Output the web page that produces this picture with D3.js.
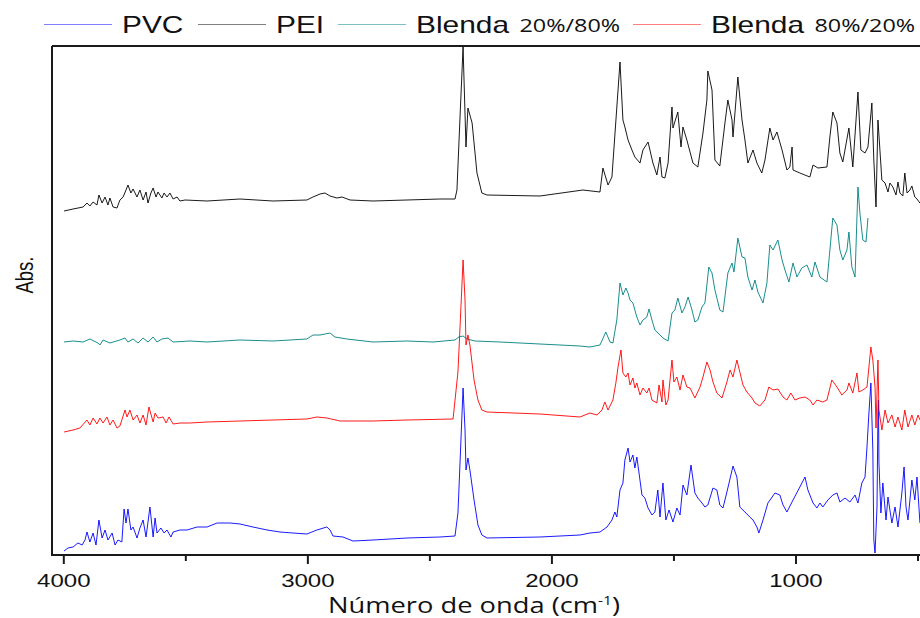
<!DOCTYPE html>
<html>
<head>
<meta charset="utf-8">
<script src="https://cdn.jsdelivr.net/npm/d3@7"></script>
<style>
  body { margin: 0; background: #fff; }
  svg { display: block; }
</style>
</head>
<body>
<script>
// series labels (legend), split into name + ratio part
const legendNames = ["PVC", "PEI", "Blenda", "Blenda"];
const legendRatios = ["", "", "20%/80%", "80%/20%"];
const colors = ["#0000ff", "#000000", "#008080", "#ff0000"];

const majorTicks = [4000, 3000, 2000, 1000];
const minorTicks = [3500, 2500, 1500, 500];

// [wavenumber (cm-1), absorbance (a.u., stacked)]
const pvc = [
  [3997,0.04],[3981,0.07],[3960,0.08],[3940,0.12],[3923,0.10],[3911,0.15],[3903,0.23],[3891,0.13],
  [3878,0.22],[3866,0.10],[3854,0.35],[3841,0.17],[3829,0.25],[3817,0.15],[3800,0.22],[3788,0.10],
  [3776,0.15],[3760,0.13],[3751,0.46],[3743,0.32],[3735,0.46],[3723,0.25],[3714,0.28],[3698,0.17],
  [3686,0.27],[3673,0.35],[3661,0.18],[3645,0.48],[3632,0.18],[3624,0.37],[3616,0.22],[3600,0.27],
  [3587,0.22],[3575,0.25],[3559,0.18],[3550,0.23],[3522,0.25],[3493,0.25],[3452,0.28],[3411,0.28],
  [3370,0.32],[3317,0.32],[3276,0.31],[3223,0.28],[3165,0.25],[3112,0.23],[3059,0.22],[3002,0.21],
  [2961,0.25],[2920,0.28],[2907,0.25],[2895,0.19],[2854,0.18],[2813,0.14],[2731,0.15],[2592,0.17],
  [2457,0.18],[2395,0.19],[2383,0.42],[2379,0.65],[2362,1.67],[2354,1.25],[2350,0.85],[2342,0.97],
  [2334,0.85],[2317,0.55],[2301,0.30],[2285,0.20],[2264,0.17],[2047,0.18],[1883,0.20],[1842,0.22],
  [1801,0.23],[1772,0.28],[1752,0.35],[1740,0.43],[1732,0.38],[1719,0.65],[1707,0.72],[1699,0.95],
  [1686,1.07],[1678,0.93],[1666,1.00],[1658,0.87],[1650,0.98],[1641,0.82],[1629,0.60],[1617,0.57],
  [1604,0.47],[1588,0.40],[1576,0.43],[1564,0.65],[1555,0.38],[1543,0.72],[1531,0.35],[1518,0.45],
  [1502,0.33],[1486,0.47],[1473,0.40],[1461,0.70],[1445,0.60],[1428,0.90],[1412,0.62],[1400,0.57],
  [1383,0.52],[1371,0.48],[1359,0.50],[1338,0.67],[1322,0.65],[1310,0.50],[1297,0.47],[1277,0.67],
  [1256,0.89],[1240,0.78],[1228,0.48],[1207,0.43],[1187,0.38],[1174,0.35],[1158,0.28],[1150,0.22],
  [1133,0.35],[1113,0.52],[1084,0.62],[1064,0.60],[1051,0.50],[1035,0.43],[1010,0.55],[982,0.68],
  [961,0.78],[949,0.65],[928,0.52],[912,0.47],[900,0.52],[888,0.48],[867,0.55],[847,0.60],
  [830,0.62],[818,0.53],[797,0.57],[777,0.53],[756,0.60],[744,0.52],[728,0.72],[715,0.78],
  [707,1.08],[699,1.42],[691,1.72],[683,1.05],[679,0.15],[674,0.02],[666,0.48],[662,1.42],
  [660,1.55],[658,0.92],[650,0.42],[642,0.72],[629,0.35],[621,0.58],[605,0.32],[592,0.48],
  [580,0.28],[564,0.62],[555,0.88],[547,0.48],[539,0.35],[523,0.75],[511,0.55],[502,0.78],[490,0.32]
];

const pei = [
  [3997,3.44],[3960,3.46],[3919,3.48],[3903,3.52],[3891,3.49],[3878,3.53],[3862,3.50],[3854,3.60],
  [3841,3.52],[3829,3.58],[3817,3.50],[3809,3.57],[3796,3.48],[3780,3.47],[3768,3.55],[3755,3.58],
  [3743,3.65],[3735,3.70],[3723,3.62],[3714,3.66],[3698,3.58],[3686,3.65],[3673,3.55],[3661,3.63],
  [3653,3.52],[3641,3.62],[3632,3.67],[3620,3.58],[3612,3.63],[3596,3.57],[3587,3.62],[3575,3.58],
  [3563,3.62],[3550,3.56],[3534,3.58],[3522,3.54],[3501,3.55],[3411,3.54],[3276,3.56],[3141,3.54],
  [3002,3.55],[2977,3.58],[2948,3.61],[2928,3.62],[2907,3.59],[2879,3.57],[2858,3.58],[2825,3.55],
  [2731,3.54],[2592,3.55],[2457,3.56],[2395,3.56],[2387,3.65],[2375,4.35],[2362,5.08],[2350,4.08],
  [2342,4.47],[2325,4.32],[2305,3.82],[2285,3.62],[2264,3.60],[2047,3.59],[1871,3.65],[1801,3.63],
  [1789,3.87],[1768,3.70],[1752,3.78],[1719,4.93],[1707,4.35],[1699,4.28],[1686,4.15],[1670,4.05],
  [1658,3.98],[1637,3.92],[1625,4.05],[1604,4.13],[1584,3.92],[1568,3.80],[1555,3.98],[1547,3.78],
  [1535,3.77],[1522,3.92],[1506,4.48],[1502,4.27],[1482,4.43],[1469,4.08],[1461,4.28],[1445,4.15],
  [1420,3.92],[1400,3.88],[1379,4.22],[1363,4.55],[1359,4.84],[1342,4.65],[1330,3.95],[1310,3.89],
  [1289,4.32],[1277,4.55],[1260,4.35],[1256,4.18],[1236,4.78],[1219,4.35],[1207,4.15],[1195,3.92],
  [1174,4.05],[1158,3.92],[1138,3.82],[1125,3.95],[1105,4.27],[1092,4.15],[1076,4.23],[1055,4.05],
  [1035,3.85],[1023,3.88],[1014,4.08],[1010,3.85],[982,3.82],[941,3.78],[928,3.90],[908,3.87],
  [871,3.88],[859,4.18],[847,4.43],[830,4.32],[818,4.02],[806,3.93],[781,4.27],[765,3.88],
  [744,4.63],[732,4.05],[715,4.02],[703,4.08],[687,4.52],[679,3.95],[670,3.48],[662,4.35],
  [646,3.75],[633,3.72],[621,3.63],[613,3.72],[601,3.68],[588,3.60],[580,3.73],[572,3.62],
  [560,3.59],[552,3.82],[543,3.62],[531,3.65],[523,3.69],[511,3.58],[502,3.56],[490,3.52]
];

const blend2080 = [
  [3997,2.13],[3960,2.14],[3919,2.13],[3891,2.16],[3858,2.12],[3850,2.10],[3837,2.15],[3809,2.12],
  [3768,2.15],[3747,2.17],[3735,2.13],[3714,2.16],[3694,2.12],[3673,2.17],[3653,2.13],[3632,2.18],
  [3616,2.13],[3596,2.16],[3571,2.17],[3550,2.13],[3481,2.14],[3411,2.13],[3276,2.15],[3141,2.14],
  [3002,2.16],[2977,2.20],[2948,2.20],[2907,2.22],[2887,2.18],[2838,2.16],[2731,2.13],[2592,2.14],
  [2485,2.13],[2395,2.15],[2379,2.18],[2362,2.19],[2346,2.16],[2313,2.14],[2211,2.13],[2047,2.11],
  [1883,2.09],[1842,2.08],[1801,2.10],[1777,2.23],[1760,2.13],[1748,2.12],[1732,2.35],[1719,2.72],
  [1707,2.60],[1695,2.67],[1686,2.62],[1678,2.55],[1666,2.52],[1650,2.38],[1637,2.30],[1625,2.35],
  [1609,2.38],[1600,2.46],[1588,2.35],[1576,2.25],[1555,2.20],[1543,2.17],[1522,2.14],[1506,2.42],
  [1494,2.45],[1482,2.57],[1465,2.42],[1453,2.48],[1440,2.58],[1424,2.45],[1412,2.33],[1400,2.35],
  [1383,2.48],[1371,2.52],[1355,2.88],[1342,2.82],[1330,2.65],[1310,2.45],[1297,2.43],[1277,2.82],
  [1260,2.92],[1252,2.83],[1236,3.17],[1219,2.98],[1207,2.97],[1195,2.78],[1178,2.65],[1166,2.75],
  [1154,2.63],[1133,2.52],[1117,2.72],[1105,3.10],[1092,3.05],[1072,3.15],[1055,2.95],[1043,2.85],
  [1027,2.73],[1010,2.92],[994,2.78],[974,2.87],[953,2.90],[933,2.78],[920,2.93],[900,2.78],
  [871,2.73],[859,3.05],[847,3.37],[830,3.30],[818,3.05],[806,2.95],[789,3.05],[781,3.23],
  [769,2.88],[756,2.78],[744,3.68],[736,3.42],[724,3.15],[711,3.13],[703,3.37]
];

const blend8020 = [
  [3997,1.23],[3960,1.25],[3932,1.27],[3903,1.35],[3891,1.30],[3878,1.37],[3862,1.31],[3850,1.37],
  [3837,1.32],[3821,1.38],[3809,1.30],[3796,1.35],[3780,1.27],[3768,1.29],[3747,1.45],[3739,1.38],
  [3727,1.45],[3714,1.35],[3698,1.40],[3686,1.32],[3673,1.40],[3661,1.30],[3649,1.48],[3632,1.33],
  [3624,1.42],[3612,1.37],[3591,1.38],[3579,1.32],[3567,1.38],[3550,1.31],[3522,1.32],[3481,1.32],
  [3411,1.33],[3276,1.34],[3141,1.35],[3002,1.36],[2961,1.38],[2920,1.37],[2866,1.34],[2731,1.34],
  [2592,1.35],[2403,1.36],[2383,1.83],[2375,2.25],[2362,2.95],[2354,2.55],[2350,2.10],[2342,2.20],
  [2334,2.10],[2317,1.75],[2301,1.55],[2285,1.45],[2264,1.43],[2047,1.41],[1883,1.38],[1842,1.42],
  [1813,1.40],[1793,1.45],[1781,1.53],[1768,1.45],[1748,1.55],[1736,1.72],[1727,1.88],[1715,2.05],
  [1707,1.82],[1695,1.78],[1686,1.82],[1678,1.70],[1666,1.77],[1658,1.67],[1650,1.72],[1637,1.60],
  [1625,1.67],[1609,1.62],[1600,1.67],[1588,1.55],[1568,1.52],[1559,1.70],[1547,1.53],[1543,1.75],
  [1531,1.50],[1522,1.55],[1506,1.95],[1498,1.73],[1486,1.78],[1473,1.65],[1461,1.80],[1445,1.68],
  [1432,1.67],[1412,1.57],[1391,1.68],[1379,1.78],[1363,1.93],[1350,1.85],[1338,1.73],[1322,1.62],
  [1301,1.57],[1281,1.73],[1268,1.85],[1256,1.78],[1240,1.95],[1228,1.83],[1215,1.70],[1199,1.63],
  [1178,1.57],[1166,1.52],[1146,1.49],[1125,1.55],[1109,1.68],[1092,1.65],[1072,1.66],[1051,1.58],
  [1035,1.55],[1019,1.62],[1002,1.55],[982,1.57],[961,1.58],[941,1.55],[928,1.50],[912,1.55],
  [888,1.53],[871,1.55],[851,1.75],[830,1.68],[810,1.60],[789,1.65],[781,1.72],[765,1.62],
  [748,1.82],[740,1.63],[724,1.65],[707,1.68],[691,2.08],[683,1.95],[674,1.68],[670,1.27],
  [662,1.95],[658,1.45],[646,1.25],[633,1.45],[621,1.32],[605,1.40],[592,1.28],[580,1.38],
  [564,1.25],[552,1.45],[539,1.28],[523,1.40],[511,1.30],[498,1.40],[490,1.35]
];

const series = [pvc, pei, blend2080, blend8020];

const W = 920, H = 618;
const plot = { left: 52, top: 46, right: 920, bottom: 555 };
const sx = 1.3; // the original figure is stretched horizontally

const x = d3.scaleLinear().domain([4000, 500]).range([63.3, 917.5]);
const y = d3.scaleLinear().domain([0, 5.09]).range([plot.bottom, plot.top]);

const svg = d3.select("body")
  .append("svg")
  .attr("width", W)
  .attr("height", H);

// spectra
const line = d3.line()
  .x(d => x(d[0]))
  .y(d => y(d[1]));

svg.append("g")
  .attr("class", "spectra")
  .selectAll("path")
  .data(series)
  .enter()
  .append("path")
  .attr("d", line)
  .attr("fill", "none")
  .attr("stroke", (d, i) => colors[i])
  .attr("stroke-width", 0.9)
  .attr("stroke-linejoin", "round");

// frame (left + top), bottom axis line
const frame = svg.append("g").attr("stroke", "#1a1a1a").attr("stroke-width", 2);
frame.append("line").attr("x1", plot.left).attr("x2", plot.left).attr("y1", plot.top).attr("y2", plot.bottom);
frame.append("line").attr("x1", plot.left).attr("x2", plot.right).attr("y1", plot.top).attr("y2", plot.top);
frame.append("line").attr("x1", plot.left - 1).attr("x2", plot.right).attr("y1", plot.bottom).attr("y2", plot.bottom);

// x axis ticks
const xAxis = d3.axisBottom(x)
  .tickValues(majorTicks)
  .tickSize(9)
  .tickSizeOuter(0)
  .tickFormat(d3.format("d"));

const xMinor = d3.axisBottom(x)
  .tickValues(minorTicks)
  .tickSize(6)
  .tickSizeOuter(0)
  .tickFormat("");

const gx = svg.append("g")
  .attr("transform", `translate(0,${plot.bottom})`)
  .call(xAxis);
svg.append("g")
  .attr("transform", `translate(0,${plot.bottom})`)
  .call(xMinor)
  .select(".domain").remove();

gx.select(".domain").remove();
svg.selectAll(".tick line").attr("stroke", "#1a1a1a").attr("stroke-width", 2);
gx.selectAll(".tick text")
  .attr("y", 0)
  .attr("dy", null)
  .attr("transform", `translate(0,32) scale(${sx},1)`)
  .style("font-family", "'Liberation Sans', Arial, sans-serif")
  .style("font-size", "18.5px")
  .attr("fill", "#111");

// x axis title
const xt = svg.append("text")
  .attr("transform", `translate(474,613) scale(${sx},1)`)
  .attr("text-anchor", "middle")
  .style("font-family", "'Open Sans', sans-serif")
  .style("font-size", "21px")
  .attr("fill", "#111");
xt.append("tspan").text("Número de onda (cm");
xt.append("tspan").attr("dy", -8).style("font-size", "12px").text("-1");
xt.append("tspan").attr("dy", 8).text(")");

// y axis title
svg.append("text")
  .attr("transform", "translate(33,275) rotate(-90) scale(1,1.3)")
  .attr("text-anchor", "middle")
  .style("font-family", "'Liberation Sans', Arial, sans-serif")
  .style("font-size", "18.5px")
  .attr("fill", "#111")
  .text("Abs.");

// legend
const legendX = [44, 198, 338, 633];
const legend = svg.selectAll(".legend")
  .data(legendNames)
  .enter()
  .append("g")
  .attr("class", "legend")
  .attr("transform", (d, i) => `translate(${legendX[i]},0)`);

legend.append("line")
  .attr("x1", 0)
  .attr("x2", 68)
  .attr("y1", 24.5)
  .attr("y2", 24.5)
  .attr("stroke", (d, i) => colors[i])
  .attr("stroke-opacity", 0.5)
  .attr("stroke-width", 1.2);

const lt = legend.append("text")
  .attr("transform", `translate(78,33) scale(${sx},1)`)
  .attr("fill", "#111");
lt.append("tspan")
  .style("font-family", "'Liberation Sans', Arial, sans-serif")
  .style("font-size", "23px")
  .text(d => d);
lt.append("tspan")
  .attr("dx", 8)
  .attr("dy", -1)
  .style("font-family", "'Open Sans', sans-serif")
  .style("font-size", "18px")
  .text((d, i) => legendRatios[i]);
</script>
</body>
</html>
